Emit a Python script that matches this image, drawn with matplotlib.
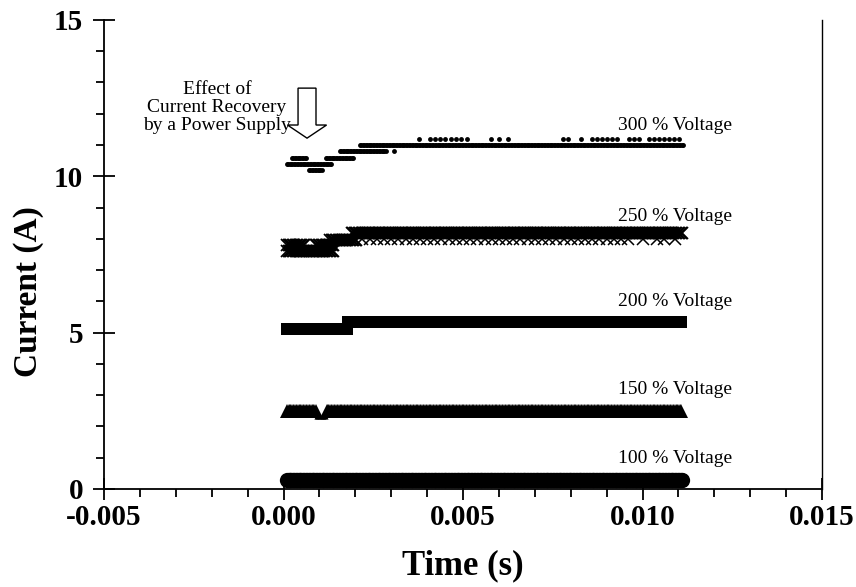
import numpy as np
import matplotlib
matplotlib.use("Agg")
import matplotlib.pyplot as plt
from matplotlib.ticker import MultipleLocator
from matplotlib.patches import FancyArrow

plt.rcParams['font.family'] = ['Liberation Serif', 'DejaVu Serif']

# sampling step of the recorded waveforms (s)
dt = 4e-5

# current levels: (t_start, t_end, current A)
seg_300 = [(0.00009, 0.00134, 10.4), (0.00023, 0.00065, 10.6), (0.00071, 0.00106, 10.2),
           (0.00118, 0.00194, 10.6), (0.00157, 0.00285, 10.8), (0.00213, 0.01113, 11.0)]
t_300_hi = [0.00309, 0.00377, 0.00408, 0.00422, 0.00436, 0.00450, 0.00466, 0.00480, 0.00494, 0.00510,
            0.00577, 0.00600, 0.00625, 0.00778, 0.00792, 0.00830, 0.00858, 0.00872, 0.00886,
            0.00900, 0.00914, 0.00928, 0.00962, 0.00976, 0.00990, 0.01018, 0.01032, 0.01046,
            0.01060, 0.01074, 0.01088, 0.01102]
i_300_hi = [10.8] + [11.2] * 31

seg_250 = [(0.0001, 0.0014, 7.6), (0.0001, 0.0006, 7.8), (0.0009, 0.0014, 7.8),
           (0.0013, 0.0020, 7.95), (0.0019, 0.0111, 8.2)]
t_250_lo = [0.0022, 0.0024, 0.0026, 0.0028, 0.0030, 0.0032, 0.0034, 0.0036, 0.0038, 0.0040,
            0.0042, 0.0044, 0.0046, 0.0048, 0.0050, 0.0052, 0.0054, 0.0056, 0.0058, 0.0060,
            0.0062, 0.0064, 0.0066, 0.0068, 0.0070, 0.0072, 0.0074, 0.0076, 0.0078, 0.0080,
            0.0082, 0.0084, 0.0086, 0.0088, 0.0090, 0.0092, 0.0094, 0.0096, 0.0100, 0.0104,
            0.0106, 0.0109]
i_250_lo = 8.0

seg_200 = [(0.0001, 0.0018, 5.12), (0.0018, 0.0111, 5.34)]
seg_150 = [(0.0001, 0.0009, 2.5), (0.0012, 0.0111, 2.5)]
seg_150_gap = [(0.0009, 0.0012, 2.3)]
seg_100 = [(0.0001, 0.0111, 0.3)]

labels = ['300 % Voltage', '250 % Voltage', '200 % Voltage', '150 % Voltage', '100 % Voltage']
label_y = [11.64, 8.70, 5.98, 3.17, 0.99]


def sampled(segs):
    t, i = [], []
    for a, b, v in segs:
        tt = np.arange(a, b + dt / 2, dt)
        t.extend(tt)
        i.extend([v] * len(tt))
    return np.array(t), np.array(i)


fig = plt.figure(figsize=(8.56, 5.87), dpi=100)
ax = fig.add_axes([0.1215, 0.167, 0.8388, 0.799])

t, i = sampled(seg_300)
ax.plot(t, i, 'o', color='black', ms=3.5, mew=0)
ax.plot(t_300_hi, i_300_hi, 'o', color='black', ms=3.5, mew=0)

t, i = sampled(seg_250)
ax.plot(t, i, 'x', color='black', ms=8, mew=1.3)
ax.plot(t_250_lo, [i_250_lo] * len(t_250_lo), 'x', color='black', ms=8, mew=1.1)

t, i = sampled(seg_200)
ax.plot(t, i, 's', color='black', ms=9, mew=0)

t, i = sampled(seg_150)
ax.plot(t, i, '^', color='black', ms=10, mew=0)
t, i = sampled(seg_150_gap)
ax.plot(t, i, '^', color='black', ms=3, mew=0)

t, i = sampled(seg_100)
ax.plot(t, i, 'o', color='black', ms=11, mew=0)

for txt, yy in zip(labels, label_y):
    ax.text(0.00932, yy, txt, ha='left', va='center', fontsize=14)

ax.text(-0.00185, 12.2, 'Effect of\nCurrent Recovery\nby a Power Supply', ha='center', va='center',
        fontsize=14, linespacing=1.1)
ax.add_patch(FancyArrow(0.000655, 12.82, 0, -1.6, width=0.0005, head_width=0.00109,
                        head_length=0.42, length_includes_head=True,
                        facecolor='white', edgecolor='black', lw=1.0, zorder=5))

ax.set_xlim(-0.005, 0.015)
ax.set_ylim(0, 15)
ax.xaxis.set_major_locator(MultipleLocator(0.005))
ax.xaxis.set_minor_locator(MultipleLocator(0.001))
ax.yaxis.set_major_locator(MultipleLocator(5))
ax.yaxis.set_minor_locator(MultipleLocator(1))
ax.xaxis.set_major_formatter(plt.FuncFormatter(lambda v, p: '%.3f' % v))

ax.spines['top'].set_visible(False)
ax.spines['right'].set_linewidth(1.0)
for s in ['left', 'bottom']:
    ax.spines[s].set_linewidth(1.3)

ax.tick_params(which='major', direction='inout', length=16, width=1.3, labelsize=21, pad=3)
ax.tick_params(axis='y', which='major', pad=7)
ax.tick_params(which='minor', direction='out', length=6, width=1.3)
for lab in ax.get_xticklabels() + ax.get_yticklabels():
    lab.set_fontweight('bold')

ax.set_xlabel('Time (s)', fontsize=25, fontweight='bold', labelpad=13)
ax.set_ylabel('Current (A)', fontsize=24, fontweight='bold', labelpad=8)
ax.yaxis.set_label_coords(-0.083, 0.42)

fig.savefig('out.png', dpi=100)
